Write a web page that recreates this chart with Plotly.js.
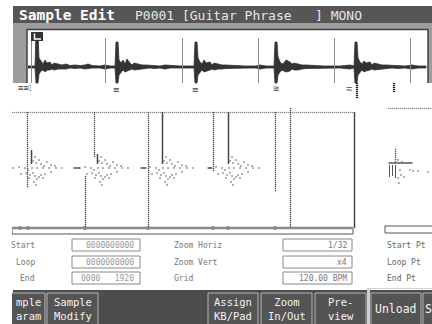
<!DOCTYPE html>
<html><head><meta charset="utf-8">
<script src="https://cdn.plot.ly/plotly-3.0.1.min.js"></script>
<style>html,body{margin:0;padding:0;background:#fff}#chart{width:432px;height:324px}</style>
</head><body><div id="chart"></div>
<script>
const titleMain = "Sample Edit";
const titleInfo = "P0001 [Guitar Phrase   ] MONO";

// overview waveform envelope (column, amplitude above / below the centre line)
const waveX = [
  28,35,
  36,38,39,41,43,45,47,50,52,54,58,62,66,70,75,80,85,88,92,100,105,110,115,
  116,118,119,121,123,125,127,130,132,134,138,142,146,150,155,160,165,170,175,180,188,194,
  195,197,198,200,202,204,206,210,212,214,218,222,226,232,238,245,250,256,260,266,274,
  275,277,278,280,282,284,286,290,292,294,298,302,306,312,318,324,330,340,350,354,
  355,357,358,360,362,364,366,370,372,374,378,382,386,392,398,405,412,418,426
];
const waveUp = [
  1,1,
  34,34,9,6,3,7,4,5,2,4,3,2,3,1.5,2,1.5,2,3,1.5,1,2,1,1,
  25,25,7,4,7,3,8,4,2,4,3,2,2,1.5,1.5,1,2,1.5,1,1,1,1,
  25,25,9,5,3,7,4,5,2,4,3,2,2,1.5,1.5,1,1,1,2,1,1,
  25,25,10,5,3,4,7,5,3,4,3,2,2,1.5,1.5,1,1,1,2,1,
  25,25,9,5,3,6,4,5,2,4,3,2,2,1.5,1.5,1,2,1,1
];
const waveDown = [
  1,1,
  16,16,7,4,3,5,3,3,2,3,2,2,2,1,1.5,1,2,2,1,1,2,1,1,
  16,16,8,5,3,5,4,3,2,3,2,2,1.5,1,1.5,1,2,1,1,1,1,1,
  16,16,8,5,3,5,4,3,2,3,2,2,1.5,1,1,1,1,1,2,1,1,
  16,16,8,5,3,4,5,4,2,3,3,2,1.5,1,1,1,1,1,2,1,
  16,16,8,5,3,5,4,3,2,3,2,2,1.5,1,1.5,1,2,1,1
];
const overviewMarkers = [31,105,182,258,334,410];

// zoomed view
const midDotX      = [27, 94, 85, 148, 213, 275, 290];
const midDotTop    = [112,112,176,112, 112, 112, 108];
const midDotBottom = [186,156,228,228, 170, 190, 228];
const fragStemX      = [31, 97, 162, 228];
const fragStemTop    = [150,154,112, 112];
const fragStemBottom = [164,164,164, 164];
const fragDotDx = [2,4,5,8,10,13,16,20,24, -18,-12,-6,-3,1,6,12,18,25,31, -10,-5,-1,2,4,6,8,10,14,20,3,5,-2,12];
const fragDotY  = [161,157,163,160,164,166,162,165,166, 168,167,168,170,168,168,168,168,168,168, 174,173,175,173,176,179,177,175,174,172,182,185,178,178];
const baseTicks = [20,28,85,148,213,228,275];

// parameter fields
const leftLabels  = ["Start", "Loop", "End"];
const leftValues  = ["0000000000", "0000000000", "0000   1920"];
const midLabels   = ["Zoom Horiz", "Zoom Vert", "Grid"];
const rightValues = ["1/32", "x4", "120.00 BPM"];
const farLabels   = ["Start Pt", "Loop Pt", "End Pt"];

// function buttons
const buttonTop    = ["mple", "Sample", "Assign", "Zoom", "Pre-", "Unload", "S"];
const buttonBottom = ["aram", "Modify", "KB/Pad", "In/Out", "view", "", ""];

// ---------- drawing ----------
const MONO = "DejaVu Sans Mono";
const shapes = [], ann = [], traces = [];
function rect(x0,y0,x1,y1,fill,line,lw,layer){
  shapes.push({type:'rect',xref:'x',yref:'y',x0:x0,y0:y0,x1:x1,y1:y1,
    fillcolor:fill,line:{color:line||fill,width:lw||0},layer:layer||'below'});
}
function path(p,color,w,layer){
  shapes.push({type:'path',xref:'x',yref:'y',path:p,line:{color:color,width:w},layer:layer||'below'});
}
// dotted LCD lines drawn as pixel dots
function dotLines(xs,y0s,y1s,color,horizontal){
  const X=[],Y=[];
  xs.forEach((x,i)=>{
    for(let v=y0s[i]; v<=y1s[i]; v+=2){
      if(horizontal){X.push(v+0.5);Y.push(x+0.5);} else {X.push(x+0.5);Y.push(v+0.5);}
    }
  });
  traces.push({type:'scatter',mode:'markers',x:X,y:Y,hoverinfo:'skip',
    marker:{symbol:'square',size:1.3,color:color,line:{width:0}}});
}
function txt(x,y,t,size,color,anchor,bold){
  ann.push({xref:'x',yref:'y',x:x,y:y,text:bold?'<b>'+t+'</b>':t,showarrow:false,
    xanchor:anchor||'left',yanchor:'middle',font:{family:MONO,size:size,color:color}});
}
function segs(xs0,ys0,xs1,ys1){
  const X=[],Y=[];
  for(let i=0;i<xs0.length;i++){X.push(xs0[i]+0.5,xs1[i]+0.5,null);Y.push(ys0[i],ys1[i],null);}
  return {x:X,y:Y};
}

// top bar
rect(13,6,432,23,'#565656');
txt(17,15,titleMain,14.5,'#ffffff','left',true);
txt(133,15,titleInfo.replace(/ /g,'\u00a0'),13,'#e6e6e6','left');

// overview frame
rect(13,23,432,83,'#9d9d9d');
rect(27,29,428,83,'#ffffff');
path('M27,83 L27,29.5 L428,29.5 L428,83','#404040',1.5);

// overview waveform
const centre = 67;
const polyX = waveX.concat(waveX.slice().reverse());
const polyY = waveUp.map(v=>centre-v).concat(waveDown.map(v=>centre+v).reverse());
traces.push({type:'scatter',mode:'lines',x:polyX,y:polyY,fill:'toself',fillcolor:'#333',
  line:{color:'#333',width:0.8},hoverinfo:'skip'});
// overview grid markers
overviewMarkers.forEach(x=>{
  shapes.push({type:'line',xref:'x',yref:'y',x0:x+0.5,x1:x+0.5,y0:38,y1:83,layer:'above',
    line:{color:'#8c8c8c',width:1}});
});
dotLines([356,357,393,394],[83,83,83,83],[97,97,91,91],'#222');
// start flag
rect(31,32,43,41,'#333','#333',0,'above');
path('M34.5,33.5 L34.5,39 L41,39','#ffffff',1.5,'above');
// markers under the overview
txt(24,88,'≡≡⁝',9,'#444','center');
txt(116,89,'≡',10,'#444','center');
txt(195,89,'≡',10,'#444','center');
txt(276,88,'≅',10,'#444','center');
txt(349,88,'≂',10,'#444','center');

// zoomed view: top dotted lines
dotLines([112,108],[12,388],[353,432],'#888',true);
// dotted verticals
dotLines(midDotX, midDotTop, midDotBottom, '#444');
// solid stems
let s = segs(fragStemX.concat([354]), fragStemTop.concat([112]), fragStemX.concat([354]), fragStemBottom.concat([228]));
traces.push({type:'scatter',mode:'lines',x:s.x,y:s.y,line:{color:'#444',width:1.5},hoverinfo:'skip'});
// fragment dots
const dX=[],dY=[];
fragStemX.forEach(c=>{fragDotDx.forEach((d,i)=>{dX.push(c+d);dY.push(fragDotY[i]);});});
traces.push({type:'scatter',mode:'markers',x:dX,y:dY,marker:{symbol:'square',size:1.5,color:'#777'},hoverinfo:'skip'});
// small dashes
s = segs([73,140,207,388],[168,168,168,163],[80,146,212,412],[168,168,168,163]);
traces.push({type:'scatter',mode:'lines',x:s.x,y:s.y,line:{color:'#555',width:1.5},hoverinfo:'skip'});
// right fragment
s = segs([389,392,395],[165,165,165],[389,392,395],[177,176,178]);
traces.push({type:'scatter',mode:'lines',x:s.x,y:s.y,line:{color:'#555',width:1},hoverinfo:'skip'});
dotLines([395],[149],[162],'#555');
traces.push({type:'scatter',mode:'markers',
  x:[398,402,400,398,399,410,413,418,428,401,404],
  y:[160,162,170,178,183,170,171,171,172,175,177],
  marker:{symbol:'square',size:1.5,color:'#777'},hoverinfo:'skip'});

// base line + scroll bar
rect(12,228,353,234,'#ffffff','#555',1);
path('M12,228 L353,228','#8a8a8a',2.5,'above');
traces.push({type:'scatter',mode:'markers',x:baseTicks,y:baseTicks.map(()=>228),
  marker:{symbol:'square',size:3,color:'#333'},hoverinfo:'skip'});
rect(385,226,440,233,'#ffffff','#555',1);

// parameter fields
const rowsY = [245,262,278];
const boxes = [[239,251],[256,268],[272,284]];
rowsY.forEach((y,i)=>{
  rect(72,boxes[i][0],140,boxes[i][1],'#ffffff','#888',1);
  rect(283,boxes[i][0],352,boxes[i][1],'#ffffff','#888',1);
  txt(37,y,leftLabels[i],8,'#777','right');
  txt(136,y,leftValues[i],8,'#999','right');
  txt(172,y,midLabels[i],8,'#777','left');
  txt(349,y,rightValues[i],8,'#777','right');
  txt(385,y,farLabels[i],8,'#666','left');
});

// function bar
rect(13,290,432,324,'#4d4d4d');
const btnX0 = [ 5, 47,208,261,315,371,423];
const btnX1 = [45, 98,258,312,366,421,440];
btnX0.forEach((x0,i)=>{
  rect(x0,293,btnX1[i],326,'#545454','#b4b4b4',1);
  const cx = i===0 ? 28 : (i===6 ? 428 : (x0+btnX1[i])/2);
  if(buttonBottom[i]){
    ann.push({xref:'x',yref:'y',x:cx,y:308.5,text:buttonTop[i]+'<br>'+buttonBottom[i],showarrow:false,
      xanchor:'center',yanchor:'middle',align:'center',font:{family:MONO,size:10.5,color:'#f2f2f2'}});
  } else {
    txt(cx,309,buttonTop[i],11.5,'#f2f2f2','center');
  }
});
rect(367,288,370,324,'#d0d0d0');
path('M367,288.5 L432,288.5','#d0d0d0',1);
// left edge of the screen (outside the LCD)
rect(0,0,12,324,'#ffffff','#ffffff',0,'above');

const layout = {
  width:432,height:324,margin:{l:0,r:0,t:0,b:0},
  paper_bgcolor:'#ffffff',plot_bgcolor:'#ffffff',showlegend:false,
  xaxis:{range:[0,432],visible:false,fixedrange:true},
  yaxis:{range:[324,0],visible:false,fixedrange:true},
  shapes:shapes,annotations:ann
};
Plotly.newPlot('chart',traces,layout,{staticPlot:true,displayModeBar:false});
</script></body></html>
